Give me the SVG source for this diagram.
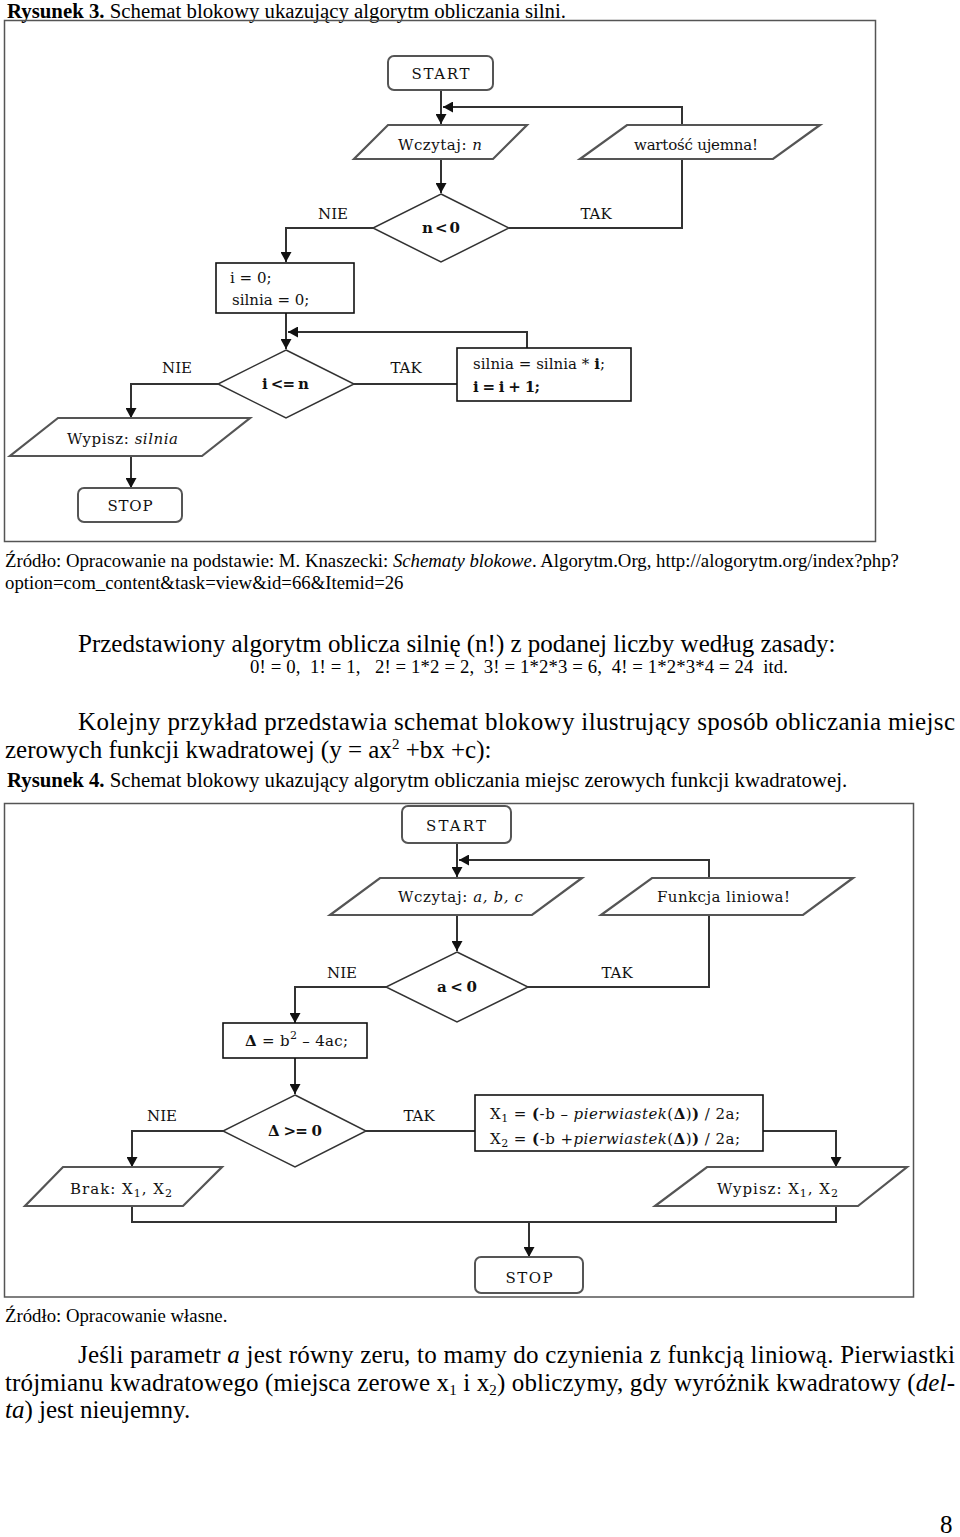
<svg xmlns="http://www.w3.org/2000/svg" width="960" height="1537" viewBox="0 0 960 1537">
<defs>
<marker id="ah" viewBox="0 0 10 11" refX="10" refY="5.5" markerWidth="10" markerHeight="11" markerUnits="userSpaceOnUse" orient="auto">
<path d="M0,0 L10,5.5 L0,11 z" fill="#111"/>
</marker>
<style>
.frame{fill:none;stroke:#555;stroke-width:1.5}
.term{fill:#fff;stroke:#555;stroke-width:2}
.io{fill:#fff;stroke:#555;stroke-width:2.2}
.proc{fill:#fff;stroke:#111;stroke-width:1.6}
.dec{fill:#fff;stroke:#333;stroke-width:1.5}
.edge{fill:none;stroke:#333;stroke-width:2}
.fc{font-family:"DejaVu Serif","Liberation Serif",serif;font-size:15px;fill:#111}
.fcb{font-family:"DejaVu Serif","Liberation Serif",serif;font-size:15px;font-weight:bold;fill:#111}
.lbl{font-family:"DejaVu Serif","Liberation Serif",serif;font-size:15px;fill:#111;text-anchor:middle}
.body{font-family:"Liberation Serif","Times New Roman",serif;font-size:25px;fill:#000}
.cap{font-family:"Liberation Serif","Times New Roman",serif;font-size:20.8px;fill:#000}
.src{font-family:"Liberation Serif","Times New Roman",serif;font-size:18.75px;fill:#000}
.pre{white-space:pre}
</style>
</defs>

<!-- Page text -->
<g id="texts">
<text class="cap" x="7" y="18"><tspan font-weight="bold">Rysunek 3.</tspan> Schemat blokowy ukazujący algorytm obliczania silni.</text>
<text class="src" x="5" y="567">Źródło: Opracowanie na podstawie: M. Knaszecki: <tspan font-style="italic">Schematy blokowe</tspan>. Algorytm.Org, http://alogorytm.org/index?php?</text>
<text class="src" x="5" y="589">option=com_content&amp;task=view&amp;id=66&amp;Itemid=26</text>
<text class="body" x="78" y="652">Przedstawiony algorytm oblicza silnię (n!) z podanej liczby według zasady:</text>
<text class="src pre" x="250" y="673" textLength="538" lengthAdjust="spacing">0! = 0,  1! = 1,   2! = 1*2 = 2,  3! = 1*2*3 = 6,  4! = 1*2*3*4 = 24  itd.</text>
<text class="body" x="78" y="730" textLength="877" lengthAdjust="spacing">Kolejny przykład przedstawia schemat blokowy ilustrujący sposób obliczania miejsc</text>
<text class="body" x="5" y="758">zerowych funkcji kwadratowej (y = ax<tspan dy="-9" font-size="15">2</tspan><tspan dy="9"> +bx +c):</tspan></text>
<text class="cap" x="7" y="787"><tspan font-weight="bold">Rysunek 4.</tspan> Schemat blokowy ukazujący algorytm obliczania miejsc zerowych funkcji kwadratowej.</text>
<text class="src" x="5" y="1322">Źródło: Opracowanie własne.</text>
<text class="body" x="78" y="1363" textLength="877" lengthAdjust="spacing">Jeśli parametr <tspan font-style="italic">a</tspan> jest równy zeru, to mamy do czynienia z funkcją liniową. Pierwiastki</text>
<text class="body" x="5" y="1391" textLength="950" lengthAdjust="spacing">trójmianu kwadratowego (miejsca zerowe x<tspan dy="4" font-size="15">1</tspan><tspan dy="-4"> i x</tspan><tspan dy="4" font-size="15">2</tspan><tspan dy="-4">) obliczymy, gdy wyróżnik kwadratowy (</tspan><tspan font-style="italic">del-</tspan></text>
<text class="body" x="5" y="1418"><tspan font-style="italic">ta</tspan>) jest nieujemny.</text>
<text class="body" x="940" y="1533">8</text>
</g>

<!-- Figure 3 frame -->
<rect class="frame" x="4.5" y="20.5" width="871" height="521"/>
<!-- Figure 4 frame -->
<rect class="frame" x="4.5" y="803.5" width="909" height="493.5"/>

<!-- Connectors -->
<g id="connectors">
<!-- fig 3 -->
<path class="edge" d="M441,90 V124" marker-end="url(#ah)"/>
<path class="edge" d="M509,228 H682 V107 H443" marker-end="url(#ah)"/>
<path class="edge" d="M441,159 V193" marker-end="url(#ah)"/>
<path class="edge" d="M373,228 H286 V262" marker-end="url(#ah)"/>
<path class="edge" d="M286,313 V349" marker-end="url(#ah)"/>
<path class="edge" d="M527,348 V332 H288" marker-end="url(#ah)"/>
<path class="edge" d="M354,384 H457"/>
<path class="edge" d="M218,384 H131 V418" marker-end="url(#ah)"/>
<path class="edge" d="M131,456 V488" marker-end="url(#ah)"/>
<!-- fig 4 -->
<path class="edge" d="M457,843 V877" marker-end="url(#ah)"/>
<path class="edge" d="M528,987 H709 V860 H459" marker-end="url(#ah)"/>
<path class="edge" d="M457,915 V951" marker-end="url(#ah)"/>
<path class="edge" d="M386,987 H295 V1023" marker-end="url(#ah)"/>
<path class="edge" d="M295,1058 V1094" marker-end="url(#ah)"/>
<path class="edge" d="M223,1131 H132 V1167" marker-end="url(#ah)"/>
<path class="edge" d="M366,1131 H475"/>
<path class="edge" d="M763,1131 H836 V1167" marker-end="url(#ah)"/>
<path class="edge" d="M132,1206 V1222 H836 V1206"/>
<path class="edge" d="M529,1222 V1257" marker-end="url(#ah)"/>
</g>

<!-- Figure 3 nodes -->
<g id="f3-start">
<rect class="term" x="388" y="56" width="105" height="34" rx="6"/>
<text class="lbl" x="440.5" y="79" textLength="58" lengthAdjust="spacing">START</text>
</g>
<g id="f3-read">
<polygon class="io" points="388,125 527,125 493,159 354,159"/>
<text class="fc" x="398" y="150" textLength="84" lengthAdjust="spacing">Wczytaj: <tspan font-style="italic">n</tspan></text>
</g>
<g id="f3-neg">
<polygon class="io" points="627,125 820,125 773,159 580,159"/>
<text class="fc" x="634" y="150" textLength="124" lengthAdjust="spacing">wartość ujemna!</text>
</g>
<g id="f3-cond1">
<polygon class="dec" points="441,194 509,228 441,262 373,228"/>
<text class="fcb" x="422" y="233" textLength="38" lengthAdjust="spacing">n &lt; 0</text>
</g>
<g id="f3-labels1">
<text class="lbl" x="333" y="219">NIE</text>
<text class="lbl" x="596" y="219">TAK</text>
</g>
<g id="f3-init">
<rect class="proc" x="216" y="263" width="138" height="50"/>
<text class="fc" x="230" y="283">i = 0;</text>
<text class="fc" x="232" y="305">silnia = 0;</text>
</g>
<g id="f3-cond2">
<polygon class="dec" points="286,350 354,384 286,418 218,384"/>
<text class="fcb" x="262" y="389" textLength="47" lengthAdjust="spacing">i &lt;= n</text>
</g>
<g id="f3-labels2">
<text class="lbl" x="177" y="373">NIE</text>
<text class="lbl" x="406" y="373">TAK</text>
</g>
<g id="f3-body">
<rect class="proc" x="457" y="348" width="174" height="53"/>
<text class="fc" x="473" y="369" textLength="132" lengthAdjust="spacing">silnia = silnia * <tspan font-weight="bold">i</tspan>;</text>
<text class="fcb" x="473" y="392" textLength="67" lengthAdjust="spacing">i = i + 1;</text>
</g>
<g id="f3-print">
<polygon class="io" points="58,418 250,418 202,456 10,456"/>
<text class="fc" x="67" y="444" textLength="111" lengthAdjust="spacing">Wypisz: <tspan font-style="italic">silnia</tspan></text>
</g>
<g id="f3-stop">
<rect class="term" x="78" y="488" width="104" height="34" rx="6"/>
<text class="lbl" x="130" y="511" textLength="45" lengthAdjust="spacing">STOP</text>
</g>

<!-- Figure 4 nodes -->
<g id="f4-start">
<rect class="term" x="402" y="806" width="109" height="37" rx="6"/>
<text class="lbl" x="456" y="831" textLength="60" lengthAdjust="spacing">START</text>
</g>
<g id="f4-read">
<polygon class="io" points="380,878 582,878 532,915 330,915"/>
<text class="fc" x="398" y="902" textLength="125" lengthAdjust="spacing">Wczytaj: <tspan font-style="italic">a, b, c</tspan></text>
</g>
<g id="f4-linear">
<polygon class="io" points="652,878 853,878 803,915 601,915"/>
<text class="fc" x="657" y="902" textLength="133" lengthAdjust="spacing">Funkcja liniowa!</text>
</g>
<g id="f4-cond1">
<polygon class="dec" points="457,952 528,987 457,1022 386,987"/>
<text class="fcb" x="437" y="992" textLength="40" lengthAdjust="spacing">a &lt; 0</text>
</g>
<g id="f4-labels1">
<text class="lbl" x="342" y="978">NIE</text>
<text class="lbl" x="617" y="978">TAK</text>
</g>
<g id="f4-delta">
<rect class="proc" x="223" y="1023" width="144" height="35"/>
<text class="fc" x="245" y="1046" textLength="103" lengthAdjust="spacing"><tspan font-weight="bold">Δ</tspan> =  b<tspan dy="-7" font-size="11">2</tspan><tspan dy="7"> – 4ac;</tspan></text>
</g>
<g id="f4-cond2">
<polygon class="dec" points="295,1095 366,1131 295,1167 223,1131"/>
<text class="fcb" x="268" y="1136" textLength="54" lengthAdjust="spacing">Δ &gt;= 0</text>
</g>
<g id="f4-labels2">
<text class="lbl" x="162" y="1121">NIE</text>
<text class="lbl" x="419" y="1121">TAK</text>
</g>
<g id="f4-roots">
<rect class="proc" x="475" y="1095" width="288" height="56"/>
<text class="fc" x="490" y="1119" textLength="250" lengthAdjust="spacing">X<tspan dy="3" font-size="11">1</tspan><tspan dy="-3"> = </tspan><tspan font-weight="bold">(</tspan>-b – <tspan font-style="italic">pierwiastek</tspan>(<tspan font-weight="bold">Δ</tspan>)<tspan font-weight="bold">)</tspan> / 2a;</text>
<text class="fc" x="490" y="1144" textLength="250" lengthAdjust="spacing">X<tspan dy="3" font-size="11">2</tspan><tspan dy="-3"> = </tspan><tspan font-weight="bold">(</tspan>-b +<tspan font-style="italic">pierwiastek</tspan>(<tspan font-weight="bold">Δ</tspan>)<tspan font-weight="bold">)</tspan> / 2a;</text>
</g>
<g id="f4-none">
<polygon class="io" points="63,1167 222,1167 183,1206 25,1206"/>
<text class="fc" x="70" y="1194" textLength="102" lengthAdjust="spacing">Brak: X<tspan dy="3" font-size="11">1</tspan><tspan dy="-3">, X</tspan><tspan dy="3" font-size="11">2</tspan></text>
</g>
<g id="f4-print">
<polygon class="io" points="707,1167 907,1167 858,1206 655,1206"/>
<text class="fc" x="717" y="1194" textLength="121" lengthAdjust="spacing">Wypisz: X<tspan dy="3" font-size="11">1</tspan><tspan dy="-3">, X</tspan><tspan dy="3" font-size="11">2</tspan></text>
</g>
<g id="f4-stop">
<rect class="term" x="475" y="1257" width="108" height="36" rx="6"/>
<text class="lbl" x="529" y="1283" textLength="47" lengthAdjust="spacing">STOP</text>
</g>
</svg>
